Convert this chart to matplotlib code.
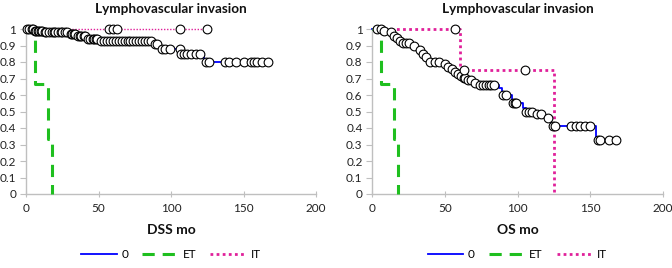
import matplotlib
matplotlib.use("Agg")
import matplotlib.pyplot as plt
from matplotlib.lines import Line2D

plt.rcParams['font.family'] = ['Lato', 'DejaVu Sans']

# ---------------- DSS (left panel) ----------------
dss_g0_t = [0, 3, 12, 30, 35, 42, 50, 88, 92, 105, 123, 167]
dss_g0_s = [1.0, 0.99, 0.98, 0.97, 0.955, 0.94, 0.927, 0.91, 0.88, 0.85, 0.80, 0.80]
dss_g0_ct = [1, 2, 4, 5, 6, 7, 8, 9, 10, 11,
             13, 14, 16, 18, 19, 20, 22, 24, 25, 27, 28,
             31, 32, 33, 34, 36, 37, 38, 40, 41,
             43, 44, 46, 47, 48, 49,
             52, 54, 56, 58, 60, 62, 64, 66, 68, 70, 72, 74, 76, 78, 80, 82, 84, 86,
             89, 90, 94, 96, 99, 106,
             107, 109, 111, 114, 117, 120,
             124, 126, 137, 140, 145, 150, 155, 157, 159, 163, 167]
dss_g0_cs = [1.0] * 4 + [0.99] * 6 + [0.98] * 11 + [0.97] * 4 + [0.955] * 5 + [0.94] * 6 \
    + [0.927] * 18 + [0.91] * 2 + [0.88] * 4 + [0.85] * 6 + [0.80] * 11

dss_et_t = [0, 6, 15, 18]
dss_et_s = [1.0, 0.667, 0.333, 0.0]

dss_it_t = [0, 125]
dss_it_s = [1.0, 1.0]
dss_it_ct = [57, 60, 63, 106, 125]
dss_it_cs = [1.0, 1.0, 1.0, 1.0, 1.0]

# ---------------- OS (right panel) ----------------
os_g0_t = [0, 5, 10, 14, 16, 18, 20, 28, 31, 33, 34, 36, 37, 39, 48, 51, 53, 56, 58, 60,
           62, 65, 69, 72, 87, 89, 91, 96, 104, 106, 111, 119, 123, 154, 168]
os_g0_s = [1.0, 0.99, 0.98, 0.96, 0.945, 0.93, 0.915, 0.90, 0.885, 0.87, 0.85, 0.83, 0.81,
           0.80, 0.785, 0.77, 0.755, 0.74, 0.725, 0.715, 0.705, 0.69, 0.675, 0.66, 0.64,
           0.62, 0.60, 0.55, 0.52, 0.50, 0.485, 0.46, 0.41, 0.33, 0.33]
os_g0_ct = [3, 6, 8, 13, 15, 17, 19, 21, 23, 25, 29, 33, 35, 37, 40, 43, 46, 50, 52, 55,
            57, 59, 61, 63, 64, 66, 68, 71, 74, 76, 78, 80, 82, 84,
            90, 92, 97, 98, 99, 106, 108, 110, 113, 116, 121, 124, 126,
            137, 140, 143, 146, 150, 155, 157, 163, 168]
os_g0_cs = [1.0, 1.0, 0.99, 0.98, 0.96, 0.945, 0.93, 0.915, 0.915, 0.915, 0.90, 0.87, 0.85,
            0.83, 0.80, 0.80, 0.80, 0.785, 0.77, 0.755, 0.74, 0.725, 0.715, 0.705, 0.705,
            0.69, 0.69, 0.675, 0.66, 0.66, 0.66, 0.66, 0.66, 0.66,
            0.60, 0.60, 0.55, 0.55, 0.55, 0.50, 0.50, 0.50, 0.485, 0.485, 0.46, 0.41, 0.41,
            0.41, 0.41, 0.41, 0.41, 0.41, 0.33, 0.33, 0.33, 0.33]

os_et_t = [0, 6, 15, 18]
os_et_s = [1.0, 0.667, 0.333, 0.0]

os_it_t = [0, 60, 125]
os_it_s = [1.0, 0.75, 0.0]
os_it_ct = [57, 63, 105]
os_it_cs = [1.0, 0.75, 0.75]

title = "Lymphovascular invasion"
xlabels = ["DSS mo", "OS mo"]
legend_labels = ["0", "ET", "IT"]
xticks = [0, 50, 100, 150, 200]
yticks = [0, 0.1, 0.2, 0.3, 0.4, 0.5, 0.6, 0.7, 0.8, 0.9, 1]
ytick_labels = ["0", "0.1", "0.2", "0.3", "0.4", "0.5", "0.6", "0.7", "0.8", "0.9", "1"]

BLUE = "#0000ff"
GREEN = "#1fbf1f"
PINK = "#e0209a"
GRID = "#bfbfbf"

fig = plt.figure(figsize=(6.72, 2.68), dpi=100)
W, H = 672, 268
axL = fig.add_axes([26 / W, (H - 194) / H, 290 / W, 165 / H])
axR = fig.add_axes([372.3 / W, (H - 194) / H, 290.7 / W, 165 / H])

panels = [
    (axL, dss_g0_t, dss_g0_s, dss_g0_ct, dss_g0_cs, dss_et_t, dss_et_s,
     dss_it_t, dss_it_s, dss_it_ct, dss_it_cs, 1.0, xlabels[0]),
    (axR, os_g0_t, os_g0_s, os_g0_ct, os_g0_cs, os_et_t, os_et_s,
     os_it_t, os_it_s, os_it_ct, os_it_cs, 2.0, xlabels[1]),
]

for (ax, g0t, g0s, g0ct, g0cs, ett, ets, itt, its, itct, itcs, itlw, xl) in panels:
    ax.step(g0t, g0s, where='post', color=BLUE, lw=1.3, zorder=2, clip_on=False)
    ax.step(itt, its, where='post', color=PINK, lw=itlw, linestyle=(0, (1, 1.2)),
            zorder=2, clip_on=False)
    ax.step(ett, ets, where='post', color=GREEN, lw=2.2, linestyle=(0, (4, 2.6)),
            zorder=3, clip_on=False)
    ax.plot(g0ct, g0cs, linestyle='none', marker='o', ms=6.3, mfc='white', mec='black',
            mew=0.8, zorder=4, clip_on=False)
    ax.plot(itct, itcs, linestyle='none', marker='o', ms=6.3, mfc='white', mec='black',
            mew=0.8, zorder=4, clip_on=False)

    ax.set_xlim(0, 200)
    ax.set_ylim(0, 1.0)
    ax.set_xticks(xticks)
    ax.set_xticklabels([str(v) for v in xticks])
    ax.set_yticks(yticks)
    ax.set_yticklabels(ytick_labels)
    for s in ['top', 'right']:
        ax.spines[s].set_visible(False)
    for s in ['left', 'bottom']:
        ax.spines[s].set_color(GRID)
        ax.spines[s].set_linewidth(1.0)
    ax.tick_params(axis='x', direction='inout', length=5, color=GRID, labelsize=8.5,
                   labelcolor='#222222', pad=4)
    ax.tick_params(axis='y', direction='out', length=4, color=GRID, labelsize=8.5,
                   labelcolor='#222222', pad=3)
    ax.set_xlabel(xl, fontsize=10, fontweight='bold', labelpad=7, color='#111111')
    ax.text(0.5, 1.0 + 20 / 165, title, transform=ax.transAxes, ha='center', va='center',
            fontsize=9.7, fontweight='bold', color='#111111')

    handles = [
        Line2D([], [], color=BLUE, lw=1.3),
        Line2D([], [], color=GREEN, lw=2.2, linestyle=(0, (4, 2.6))),
        Line2D([], [], color=PINK, lw=2.0, linestyle=(0, (1, 1.2))),
    ]
    ax.legend(handles, legend_labels, loc='center', bbox_to_anchor=(0.5, -61 / 165),
              ncol=3, frameon=False, fontsize=8.5, handlelength=3.0, columnspacing=1.2,
              handletextpad=0.4)

fig.savefig("out.png", dpi=100)
